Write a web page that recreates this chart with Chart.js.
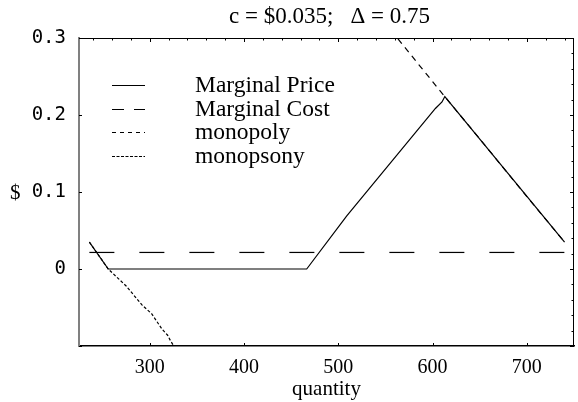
<!DOCTYPE html>
<html>
<head>
<meta charset="utf-8">
<script src="https://cdn.jsdelivr.net/npm/chart.js@4.4.1/dist/chart.umd.min.js"></script>
<style>
  html, body { margin: 0; padding: 0; background: #fff; }
  #wrap { width: 578px; height: 402px; }
</style>
</head>
<body>
<div id="wrap"><canvas id="c" width="578" height="402"></canvas></div>
<script>
// Labels and axis settings
const chartTitle = 'c = $0.035;   \u0394 = 0.75';
const xAxisLabel = 'quantity';
const yAxisLabel = '$';
const xRange = [225, 750];
const yRange = [-0.1, 0.3];
const xTickValues = [300, 400, 500, 600, 700];
const yTickValues = [-0.1, 0, 0.1, 0.2, 0.3];

// Marginal price (solid)
const priceQ = [236, 256, 466.5, 509, 603, 610, 613, 740];
const priceV = [0.035, 0, 0, 0.069, 0.2085, 0.217, 0.224, 0.035];

// Marginal cost (long dashes)
const costQ = [236, 740];
const costV = [0.0215, 0.0215];

// Monopoly curve (short dashes)
const monopolyQ = [556, 585, 613, 650, 700, 740];
const monopolyV = [0.31, 0.266, 0.2238, 0.169, 0.094, 0.035];

// Monopsony curve (fine dashes)
const monopsonyQ = [236, 256, 275, 292, 302, 313, 319, 322, 327];
const monopsonyV = [0.035, 0.0, -0.022, -0.047, -0.058, -0.078, -0.086, -0.093, -0.103];

const serif = '"Liberation Serif", "Times New Roman", serif';

function pts(qs, vs) { return qs.map((q, i) => ({ x: q, y: vs[i] })); }

// Frame, inward tick marks, title, "$" label and legend
const decorations = {
  id: 'decorations',
  afterDatasetsDraw(chart) {
    const { ctx, chartArea: a, scales: { x, y } } = chart;
    ctx.save();
    ctx.strokeStyle = '#000';
    ctx.lineWidth = 1;
    // top and right edges
    ctx.beginPath();
    ctx.moveTo(a.left, a.top + 0.5); ctx.lineTo(a.right, a.top + 0.5);
    ctx.moveTo(a.right - 0.5, a.top); ctx.lineTo(a.right - 0.5, a.bottom);
    ctx.stroke();

    ctx.beginPath();
    // top ticks: every 20, longer at the labelled values
    for (let q = 240; q <= 740; q += 20) {
      const px = Math.round(x.getPixelForValue(q)) + 0.5;
      const len = xTickValues.includes(q) ? 4 : 2.5;
      ctx.moveTo(px, a.top); ctx.lineTo(px, a.top + len);
    }
    // bottom ticks at the labelled values
    xTickValues.forEach(q => {
      const px = Math.round(x.getPixelForValue(q)) + 0.5;
      ctx.moveTo(px, a.bottom); ctx.lineTo(px, a.bottom - 3);
    });
    // right ticks: every 0.02, longer at tenths
    for (let k = -5; k <= 15; k++) {
      const v = k * 0.02;
      const py = Math.round(y.getPixelForValue(v)) + 0.5;
      const len = (k % 5 === 0) ? 4 : 2.5;
      ctx.moveTo(a.right, py); ctx.lineTo(a.right - len, py);
    }
    // left ticks at tenths
    yTickValues.forEach(v => {
      const py = Math.round(y.getPixelForValue(v)) + 0.5;
      ctx.moveTo(a.left, py); ctx.lineTo(a.left + 3, py);
    });
    ctx.stroke();

    // title
    ctx.fillStyle = '#000';
    ctx.font = '23px ' + serif;
    ctx.textAlign = 'center';
    ctx.textBaseline = 'alphabetic';
    ctx.fillText(chartTitle, (a.left + a.right) / 2 + 3, 23);

    // "$" beside the 0.1 tick label
    ctx.font = '21px ' + serif;
    ctx.textAlign = 'left';
    ctx.fillText(yAxisLabel, 10, y.getPixelForValue(0.1) + 7);

    // legend built from the datasets
    const rowY0 = 85, rowStep = 23.5;
    chart.data.datasets.forEach((ds, i) => {
      const ly = Math.round(rowY0 + i * rowStep) + 0.5;
      ctx.beginPath();
      ctx.setLineDash(ds.legendDash || ds.borderDash || []);
      ctx.lineWidth = ds.borderWidth;
      ctx.moveTo(112, ly); ctx.lineTo(145, ly);
      ctx.stroke();
      ctx.setLineDash([]);
      ctx.font = '23.5px ' + serif;
      ctx.textAlign = 'left';
      ctx.fillText(ds.label, 195, ly + 6);
    });
    ctx.restore();
  }
};

new Chart(document.getElementById('c'), {
  type: 'line',
  data: {
    datasets: [
      { label: 'Marginal Price', data: pts(priceQ, priceV), borderDash: [] },
      { label: 'Marginal Cost', data: pts(costQ, costV), borderDash: [25, 25], legendDash: [12, 10] },
      { label: 'monopoly', data: pts(monopolyQ, monopolyV), borderDash: [6, 5], legendDash: [4, 4] },
      { label: 'monopsony', data: pts(monopsonyQ, monopsonyV), borderDash: [3, 2], legendDash: [3, 1.5] }
    ].map(d => Object.assign({
      borderColor: '#000',
      borderWidth: 1.2,
      pointRadius: 0,
      tension: 0,
      fill: false
    }, d))
  },
  options: {
    responsive: false,
    animation: false,
    parsing: true,
    layout: { padding: { top: 38, right: 4, left: 0, bottom: 0 } },
    plugins: { legend: { display: false }, title: { display: false }, tooltip: { enabled: false } },
    scales: {
      x: {
        type: 'linear',
        min: xRange[0], max: xRange[1],
        afterBuildTicks: s => { s.ticks = xTickValues.map(v => ({ value: v })); },
        afterFit: s => { s.height = 56; },
        grid: { drawOnChartArea: false, drawTicks: false },
        border: { display: true, color: '#000', width: 1.5 },
        ticks: { color: '#000', font: { family: serif, size: 20 }, padding: 10, maxRotation: 0 },
        title: { display: true, text: xAxisLabel, color: '#000', font: { family: serif, size: 21 }, padding: { top: 0, bottom: 0 } }
      },
      y: {
        type: 'linear',
        min: yRange[0], max: yRange[1],
        afterBuildTicks: s => { s.ticks = yTickValues.map(v => ({ value: v })); },
        afterFit: s => { s.width = 79; },
        grid: { drawOnChartArea: false, drawTicks: false },
        border: { display: true, color: '#808080', width: 2 },
        ticks: {
          color: '#000',
          font: { family: '"DejaVu Sans Mono", monospace', size: 19 },
          padding: 13,
          callback: v => (Math.abs(v - yRange[0]) < 1e-9 ? '' : String(parseFloat(v.toFixed(2))))
        }
      }
    }
  },
  plugins: [decorations]
});
</script>
</body>
</html>
